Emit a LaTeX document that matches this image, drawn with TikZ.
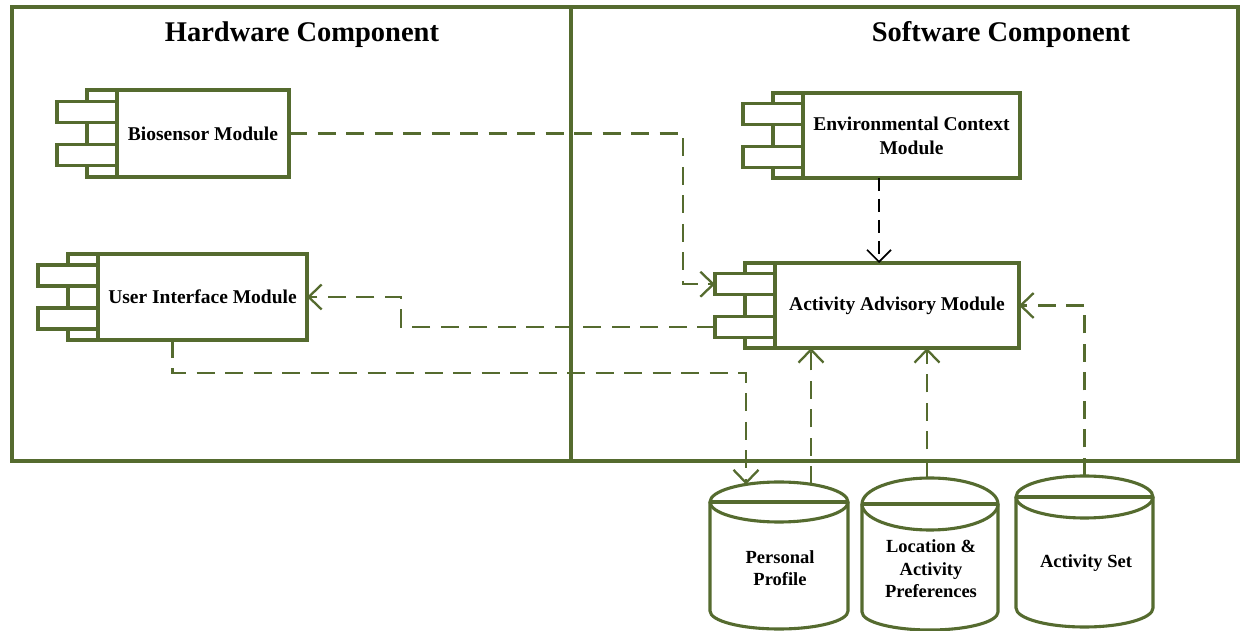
\documentclass[tikz,border=0pt]{standalone}
\usepackage{fontspec}
\setmainfont{Liberation Serif}
\usetikzlibrary{arrows.meta,calc}
\definecolor{frameolive}{RGB}{85,107,47}

\tikzset{
  frameline/.style={draw=frameolive, line width=4.3pt},
  modline/.style={draw=frameolive, line width=3.1pt},
  module/.style={modline, fill=white, rectangle, inner sep=2pt, outer sep=0pt,
    align=center, font=\bfseries\fontsize{19.5}{24}\selectfont},
  dblabel/.style={align=center, font=\bfseries\fontsize{18.5}{22.5}\selectfont},
  paneltitle/.style={font=\bfseries\fontsize{28.5}{32}\selectfont},
  link/.style={draw=frameolive, line width=2.3pt, dash pattern=on 18pt off 10.5pt,
    -{Straight Barb[length=13pt,width=25pt]}},
  blacklink/.style={draw=black, line width=1.7pt, dash pattern=on 13pt off 8pt,
    -{Straight Barb[length=12pt,width=24pt]}},
}

% UML component: main box with the two port tabs on its left side
\newcommand\umlcomponent[5]{%
  \node[module, minimum width=#3, minimum height=#4] (#1) at (#2) {#5};
  \draw[modline] ([xshift=-30pt]#1.north west) rectangle (#1.south west);
  \coordinate (#1-t1) at ($(#1.north west)!0.25!(#1.south west)+(-60pt,0)$);
  \coordinate (#1-t2) at ($(#1.north west)!0.75!(#1.south west)+(-60pt,0)$);
  \draw[modline, fill=white] ($(#1-t1)+(0,10.5pt)$) rectangle ($(#1-t1)+(60pt,-10.5pt)$);
  \draw[modline, fill=white] ($(#1-t2)+(0,10.5pt)$) rectangle ($(#1-t2)+(60pt,-10.5pt)$);
}

% data store drawn as a cylinder
% #1 name, #2 centre x, #3 top ellipse centre y, #4 its y radius,
% #5 bottom ellipse centre y, #6 its y radius, #7 x radius
\newcommand\datastore[7]{%
  \pgfmathsetmacro\dbtop{#3+#4}%
  \pgfmathsetmacro\dbbot{#5-#6}%
  \node[inner sep=0pt, outer sep=0pt, minimum width={2*#7}, minimum height={\dbtop-\dbbot}]
    (#1) at (#2,{(\dbtop+\dbbot)/2}) {};
  \draw[modline, fill=white] ({#2-#7},#3) -- ({#2-#7},#5)
    arc[start angle=180, end angle=360, x radius=#7, y radius=#6] -- ({#2+#7},#3);
  \draw[modline, fill=white] (#2,#3) ellipse[x radius=#7, y radius=#4];
  \draw[modline] ({#2-#7},#3) -- ({#2+#7},#3);
}

\begin{document}
\begin{tikzpicture}[x=1pt, y=1pt]
  \useasboundingbox (0,0) rectangle (1244,631);

  % panels
  \draw[frameline] (12,170) rectangle (1238,624);
  \draw[frameline] (571,170) -- (571,624);
  \node[paneltitle] (hw) at (302,596) {Hardware Component};
  \node[paneltitle] (sw) at (1001,596) {Software Component};

  % components
  \umlcomponent{bio}{203,497.5}{172pt}{87pt}{Biosensor Module}
  \umlcomponent{ui}{202.5,334}{209pt}{86pt}{User Interface Module}
  \umlcomponent{env}{911.5,495.5}{217pt}{85pt}{Environmental Context\\Module}
  \umlcomponent{aam}{897,325.5}{244pt}{85pt}{Activity Advisory Module}

  % data stores
  \datastore{prof}{779}{129}{20}{20}{18}{69}
  \datastore{loc}{930}{127}{26}{19}{18}{68}
  \datastore{aset}{1084.5}{134}{21}{23}{19}{68.5}
  \node[dblabel] (prof-label) at (780,63) {Personal\\Profile};
  \node[dblabel] (loc-label) at (931,62) {Location \&\\Activity\\Preferences};
  \node[dblabel] (aset-label) at (1086,68) {Activity Set};

  % connector bends and ends
  \coordinate (k1) at (683,0);
  \coordinate (k2) at (401,0);
  \coordinate (k3) at (746,258);
  \coordinate (k4) at (879,0);
  \coordinate (prof-in) at ($(prof.north)+(-33pt,-2.5pt)$);
  \coordinate (prof-out) at ($(prof.north)+(32pt,-2.5pt)$);
  \coordinate (loc-out) at ($(loc.north)+(-3pt,0)$);

  % dependencies
  \draw[link] (bio.east) -| (k1 |- aam-t1) -- (aam-t1);
  \draw[link] (aam-t2) -| (k2 |- ui.east) -- (ui.east);
  \draw[link] ([xshift=-30pt]ui.south) |- (k3) -- (prof-in);
  \draw[link] (prof-out) -- (prof-out |- aam.south);
  \draw[link] (loc-out) -- (loc-out |- aam.south);
  \draw[link] (aset.north) |- (aam.east);
  \draw[blacklink] (k4 |- env.south) -- (k4 |- aam.north);
\end{tikzpicture}
\end{document}
